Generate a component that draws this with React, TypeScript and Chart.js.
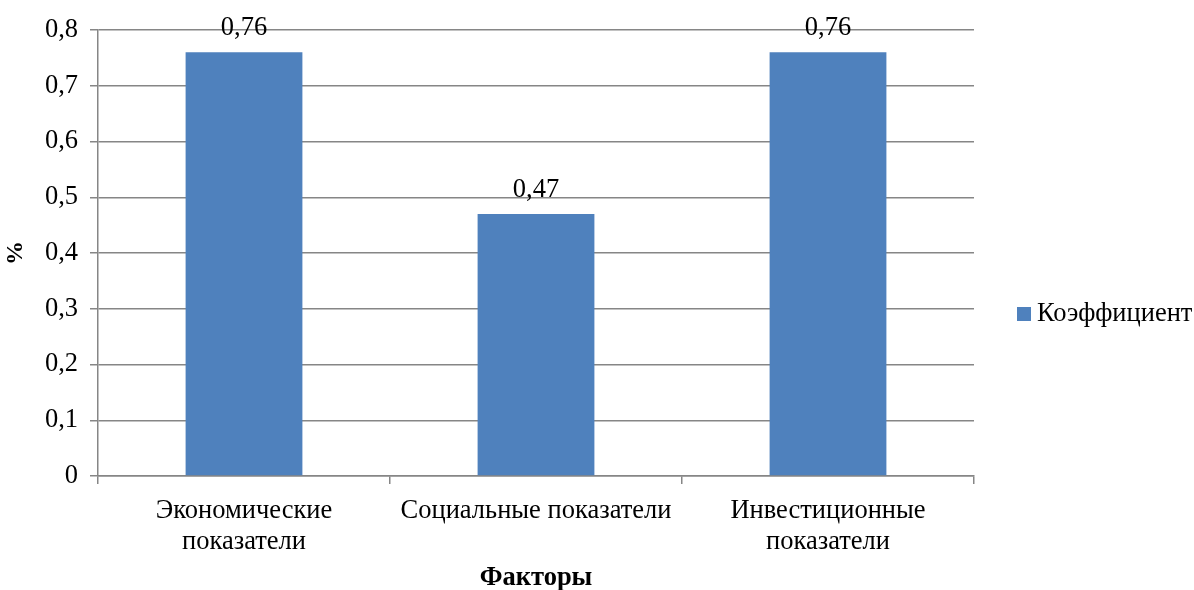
import React, { useEffect, useRef } from "react";
import { Chart, registerables } from "chart.js";

Chart.register(...registerables);

const categories: (string | string[])[] = [
  ["Экономические", "показатели"],
  "Социальные показатели",
  ["Инвестиционные", "показатели"],
];
const seriesName = "Коэффициент";
const values = [0.76, 0.47, 0.76];
const yMin = 0;
const yMax = 0.8;
const yStep = 0.1;

const FONT = "'Liberation Serif'";
const BAR = "#4F81BD";
const GRID = "#868686";
const FS = 26.5;

const fmt = (v: number) => String(Math.round(v * 100) / 100).replace(".", ",");

const dataLabels = {
  id: "dataLabels",
  afterDatasetsDraw(chart: any) {
    const ctx = chart.ctx;
    const meta = chart.getDatasetMeta(0);
    ctx.save();
    ctx.font = `${FS}px ${FONT}`;
    ctx.fillStyle = "#000";
    ctx.textAlign = "center";
    ctx.textBaseline = "middle";
    meta.data.forEach((el: any, i: number) => {
      ctx.fillText(fmt(chart.data.datasets[0].data[i]), el.x, el.y - 24);
    });
    ctx.restore();
  },
};

const legendPlugin = {
  id: "customLegend",
  afterDraw(chart: any) {
    const ctx = chart.ctx;
    const x = chart.chartArea.right + 43;
    const y = 313;
    ctx.save();
    ctx.fillStyle = BAR;
    ctx.fillRect(x, y - 6, 14, 14);
    ctx.font = `${FS}px ${FONT}`;
    ctx.fillStyle = "#000";
    ctx.textAlign = "left";
    ctx.textBaseline = "middle";
    ctx.fillText(chart.data.datasets[0].label, x + 20, y + 1);
    ctx.restore();
  },
};

export default function App() {
  const ref = useRef<HTMLCanvasElement>(null);
  useEffect(() => {
    document.body.style.margin = "0";
    let chart: any = null;
    let cancelled = false;
    let t1: any, t2: any;
    const make = () => {
      if (cancelled || !ref.current) return;
      chart = new Chart(ref.current, {
        type: "bar",
        data: {
          labels: categories,
          datasets: [
            {
              label: seriesName,
              data: values,
              backgroundColor: BAR,
              borderWidth: 0,
              barPercentage: 0.4,
              categoryPercentage: 1,
            },
          ],
        },
        options: {
          animation: false,
          responsive: false,
          layout: { padding: { top: 30, right: 220, bottom: 0, left: 0 } },
          plugins: {
            legend: { display: false },
            tooltip: { enabled: false },
          },
          scales: {
            y: {
              min: yMin,
              max: yMax,
              ticks: {
                stepSize: yStep,
                color: "#000",
                font: { family: FONT, size: FS },
                padding: 12,
                callback: (v: any) => fmt(Number(v)),
              },
              grid: { color: GRID, lineWidth: 1.5, tickLength: 8 },
              border: { color: GRID, width: 1.5 },
              title: {
                display: true,
                text: "%",
                color: "#000",
                font: { family: FONT, size: 24, weight: "bold", lineHeight: 1 },
                padding: { top: 4, bottom: 0 },
              },
              afterFit: (s: any) => {
                s.width = 98;
              },
            },
            x: {
              offset: true,
              ticks: {
                color: "#000",
                font: { family: FONT, size: FS, lineHeight: 1.15 },
                padding: 12,
                maxRotation: 0,
                autoSkip: false,
              },
              grid: {
                offset: true,
                drawOnChartArea: false,
                color: GRID,
                lineWidth: 1.5,
                tickLength: 8,
              },
              border: { color: GRID, width: 1.5 },
              title: {
                display: true,
                text: "Факторы",
                color: "#000",
                font: { family: FONT, size: FS, weight: "bold", lineHeight: 1 },
                padding: { top: 0, bottom: -1 },
              },
              afterFit: (s: any) => {
                s.height = 114;
              },
            },
          },
        },
        plugins: [dataLabels, legendPlugin],
      });
      t2 = setTimeout(() => chart && chart.update(), 300);
    };
    Promise.all([
      document.fonts.load(`${FS}px ${FONT}`),
      document.fonts.load(`bold ${FS}px ${FONT}`),
      document.fonts.load(`bold 24px ${FONT}`),
    ])
      .catch(() => {})
      .then(() => {
        t1 = setTimeout(make, 100);
      });
    return () => {
      cancelled = true;
      clearTimeout(t1);
      clearTimeout(t2);
      if (chart) chart.destroy();
    };
  }, []);
  return (
    <div style={{ width: 1194, height: 590, background: "#fff" }}>
      <canvas ref={ref} width={1194} height={590} />
    </div>
  );
}
